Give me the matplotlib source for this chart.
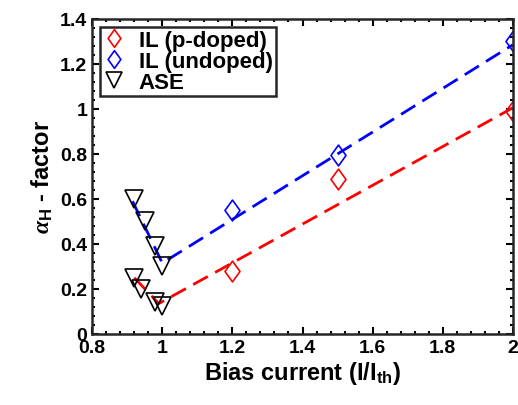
import matplotlib
matplotlib.use('Agg')
import matplotlib.pyplot as plt
from matplotlib.path import Path
from matplotlib.ticker import AutoMinorLocator, FormatStrFormatter, MultipleLocator

# --- data ---
il_current = [1.2, 1.5, 2.0]
alpha_pdoped = [0.28, 0.69, 0.99]
alpha_undoped = [0.55, 0.795, 1.30]

ase_current = [0.92, 0.95, 0.98, 1.0, 0.92, 0.94, 0.98, 1.0]
ase_alpha = [0.60, 0.50, 0.39, 0.30, 0.25, 0.20, 0.14, 0.125]

# dashed guide lines (V shape: ASE branch, then IL fit)
fit_undoped_x = [0.915, 1.0, 2.0]
fit_undoped_y = [0.59, 0.315, 1.285]
fit_pdoped_x = [0.92, 0.99, 2.0]
fit_pdoped_y = [0.25, 0.135, 1.005]

plt.rcParams['font.family'] = ['Liberation Sans', 'DejaVu Sans']
plt.rcParams['font.weight'] = 'bold'
plt.rcParams['mathtext.fontset'] = 'custom'
plt.rcParams['mathtext.rm'] = 'Liberation Sans:bold'
plt.rcParams['mathtext.bf'] = 'Liberation Sans:bold'
plt.rcParams['mathtext.it'] = 'Liberation Serif:italic'

# MATLAB-like diamond (taller than wide)
diamond = Path([(0, 1), (0.72, 0), (0, -1), (-0.72, 0), (0, 1)],
               [Path.MOVETO, Path.LINETO, Path.LINETO, Path.LINETO, Path.CLOSEPOLY])

fig = plt.figure(figsize=(5.18, 4.06), dpi=100)
ax = fig.add_axes([0.178, 0.175, 0.812, 0.776])

ax.plot(fit_undoped_x, fit_undoped_y, color='#0000ff', lw=2, dashes=(6, 3))
ax.plot(fit_pdoped_x, fit_pdoped_y, color='#ff0000', lw=2, dashes=(6, 3))

ax.plot(il_current, alpha_pdoped, linestyle='none', marker=diamond, ms=15,
        mfc='none', mec='#ff0000', mew=1.2, label='IL (p-doped)')
ax.plot(il_current, alpha_undoped, linestyle='none', marker=diamond, ms=15,
        mfc='none', mec='#0000ff', mew=1.2, label='IL (undoped)')
ax.plot(ase_current, ase_alpha, linestyle='none', marker='v', ms=13,
        mfc='none', mec='black', mew=1.2, label='ASE')

ax.set_xlim(0.8, 2.0)
ax.set_ylim(0, 1.4)
ax.xaxis.set_major_locator(MultipleLocator(0.2))
ax.yaxis.set_major_locator(MultipleLocator(0.2))
ax.xaxis.set_minor_locator(AutoMinorLocator(5))
ax.yaxis.set_minor_locator(AutoMinorLocator(5))
ax.xaxis.set_major_formatter(FormatStrFormatter('%g'))
ax.yaxis.set_major_formatter(FormatStrFormatter('%g'))

ax.tick_params(which='both', direction='in', top=True, right=True, width=1.5)
ax.tick_params(which='major', length=5, labelsize=14)
ax.tick_params(which='minor', length=2.5)
for s in ax.spines.values():
    s.set_linewidth(1.8)
    s.set_color('#262626')

ax.set_xlabel(r'Bias current (I/I$_{\mathbf{th}}$)', fontsize=17, fontweight='bold', labelpad=2)
ax.set_ylabel(r'$\alpha_{\mathbf{H}}$ - factor', fontsize=17, fontweight='bold', labelpad=4)

leg = ax.legend(loc='upper left', fontsize=16, frameon=True, fancybox=False,
                borderpad=0.15, labelspacing=0.0, handlelength=1.0, handletextpad=0.6,
                borderaxespad=0.35, markerscale=0.85)
leg.get_frame().set_edgecolor('#262626')
leg.get_frame().set_linewidth(1.8)
leg.get_frame().set_alpha(1)

fig.savefig('out.png', dpi=100)
